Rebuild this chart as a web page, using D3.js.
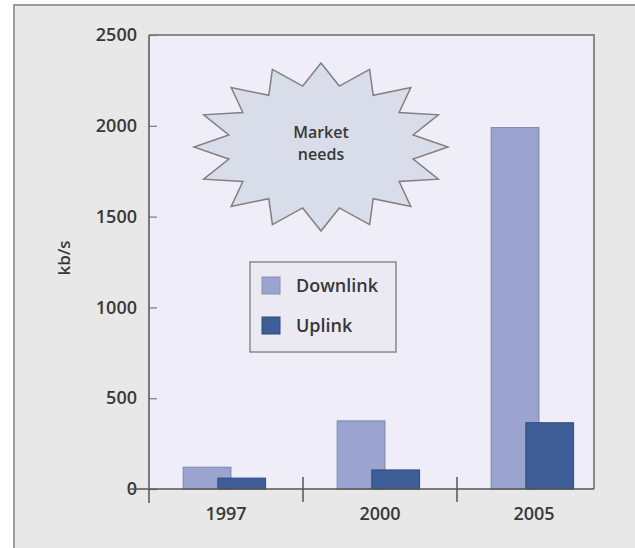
<!DOCTYPE html>
<html>
<head>
<meta charset="utf-8">
<script src="https://cdn.jsdelivr.net/npm/d3@7"></script>
<style>
  html, body { margin: 0; padding: 0; background: #ffffff; }
  svg { display: block; }
  text { font-family: "Open Sans", "DejaVu Sans", sans-serif; fill: #383838; font-weight: 600; }
</style>
</head>
<body>
<script>
// ---- data ----
const years = ["1997", "2000", "2005"];
const downlink = [120, 375, 1990];
const uplink = [60, 105, 365];
const seriesNames = ["Downlink", "Uplink"];
const yTicks = [0, 500, 1000, 1500, 2000, 2500];
const yLabel = "kb/s";
const calloutLines = ["Market", "needs"];

const W = 635, H = 548;
const colors = { Downlink: "#9ba4cf", Uplink: "#3f5e98" };
const FONT = '"Open Sans", "DejaVu Sans", sans-serif';

const svg = d3.select("body").append("svg").attr("width", W).attr("height", H);

// outer panel
svg.append("rect").attr("x", 14).attr("y", 5).attr("width", 640).attr("height", 560)
  .attr("fill", "#e8e8e8").attr("stroke", "#9c9c9c").attr("stroke-width", 2);

const plotL = 149, plotT = 35, plotR = 594, plotB = 489;

const y = d3.scaleLinear().domain([0, 2500]).range([plotB, plotT]);
const x = d3.scaleBand().domain(years).range([plotL, plotL + 3 * 154]).padding(0);

// plot background + frame (top/right)
svg.append("rect").attr("x", plotL).attr("y", plotT).attr("width", plotR - plotL).attr("height", plotB - plotT)
  .attr("fill", "#efedf7");
svg.append("path")
  .attr("d", `M${plotL},${plotT}H${plotR}V${plotB}`)
  .attr("fill", "none").attr("stroke", "#8a8a8a").attr("stroke-width", 2);

// bars
const bw = x.bandwidth();
const data = years.map((yr, i) => ({ year: yr, Downlink: downlink[i], Uplink: uplink[i] }));
const offsets = { Downlink: 0.222 * bw, Uplink: 0.447 * bw };
const barW = 0.31 * bw;
seriesNames.forEach(s => {
  svg.append("g").selectAll("rect").data(data).join("rect")
    .attr("x", d => x(d.year) + offsets[s])
    .attr("y", d => y(d[s]))
    .attr("width", barW)
    .attr("height", d => y(0) - y(d[s]))
    .attr("fill", colors[s])
    .attr("stroke", s === "Downlink" ? "#7b84ad" : "#2f4a7c")
    .attr("stroke-width", 1);
});

// y axis
const yAxis = d3.axisLeft(y).tickValues(yTicks).tickSizeInner(-8).tickSizeOuter(0).tickPadding(12)
  .tickFormat(d3.format("d"));
const gy = svg.append("g").attr("transform", `translate(${plotL},0)`).call(yAxis);
gy.select(".domain").remove();
gy.selectAll(".tick line").attr("stroke", "#777").attr("stroke-width", 1.2);
gy.selectAll(".tick text").attr("font-size", 18).attr("fill", "#383838")
  .style("font-family", FONT).style("font-weight", 600);
svg.append("line").attr("x1", plotL).attr("x2", plotL).attr("y1", plotT).attr("y2", plotB + 14)
  .attr("stroke", "#555").attr("stroke-width", 1.5);

// x axis
const xAxis = d3.axisBottom(x).tickSize(0).tickPadding(18);
const gx = svg.append("g").attr("transform", `translate(0,${plotB})`).call(xAxis);
gx.select(".domain").remove();
gx.selectAll(".tick text").attr("font-size", 18).attr("fill", "#383838")
  .style("font-family", FONT).style("font-weight", 600);
svg.append("line").attr("x1", plotL - 19).attr("x2", plotR).attr("y1", plotB).attr("y2", plotB)
  .attr("stroke", "#555").attr("stroke-width", 1.5);
svg.append("g").selectAll("line").data(years.slice(1)).join("line")
  .attr("x1", d => x(d)).attr("x2", d => x(d))
  .attr("y1", plotB - 12).attr("y2", plotB + 13)
  .attr("stroke", "#555").attr("stroke-width", 1.5);

// y label
svg.append("text").attr("transform", "translate(70,258) rotate(-90)")
  .attr("text-anchor", "middle").attr("font-size", 17).text(yLabel);

// callout star
const cx = 321, cy = 147, rx = 127, ry = 84, inner = 0.74, nPts = 16;
const starPts = d3.range(nPts * 2).map(i => {
  const a = -Math.PI / 2 + i * Math.PI / nPts;
  const r = i % 2 === 0 ? 1 : inner;
  return [cx + Math.cos(a) * rx * r, cy + Math.sin(a) * ry * r];
});
svg.append("path").attr("d", d3.line()(starPts) + "Z")
  .attr("fill", "#d9dce9").attr("stroke", "#808080").attr("stroke-width", 1.5)
  .attr("stroke-linejoin", "miter");
svg.append("g").selectAll("text").data(calloutLines).join("text")
  .attr("x", cx).attr("y", (d, i) => 137.5 + i * 22)
  .attr("text-anchor", "middle").attr("font-size", 16).text(d => d);

// legend
const lg = svg.append("g");
lg.append("rect").attr("x", 250).attr("y", 262).attr("width", 146).attr("height", 90)
  .attr("fill", "#ebe9f1").attr("stroke", "#8a8a8a").attr("stroke-width", 1.5);
seriesNames.forEach((s, i) => {
  lg.append("rect").attr("x", 262).attr("y", 277 + i * 40).attr("width", 18).attr("height", 17)
    .attr("fill", colors[s]).attr("stroke", s === "Downlink" ? "#8890b8" : "#2f4a7c");
  lg.append("text").attr("x", 296).attr("y", 292 + i * 40).attr("font-size", 18).text(s);
});
</script>
</body>
</html>
